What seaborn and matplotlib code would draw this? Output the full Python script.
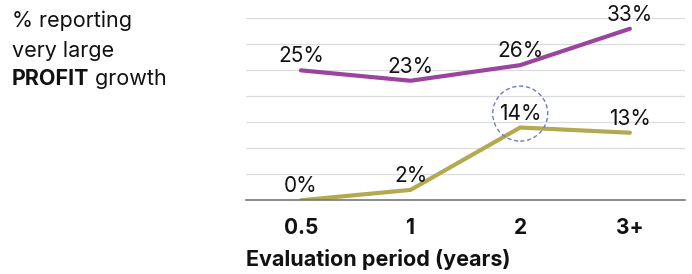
import matplotlib.pyplot as plt
import pandas as pd
import seaborn as sns

periods = ["0.5", "1", "2", "3+"]
all_firms = [25, 23, 26, 33]
subgroup = [0, 2, 14, 13]
series_names = ["all", "subgroup"]
highlight = ("subgroup", "2")

palette = {"all": "#9b449f", "subgroup": "#b3aa50"}

df = pd.DataFrame({
    "period": periods * 2,
    "value": all_firms + subgroup,
    "series": [series_names[0]] * 4 + [series_names[1]] * 4,
})

sns.set_theme(style="white")
plt.rcParams["font.family"] = ["Inter", "DejaVu Sans"]

fig = plt.figure(figsize=(6.92, 2.74), dpi=100)
ax = fig.add_axes([0.3555, 0.269, 0.634, 0.664])

sns.lineplot(data=df, x="period", y="value", hue="series", palette=palette,
             linewidth=3.0, legend=False, ax=ax, sort=False)

ax.set_xlim(-0.5, 3.5)
ax.set_ylim(0, 35)
ax.set_yticks(range(5, 36, 5))
ax.yaxis.grid(True, color="#dcdcdc", linewidth=0.9)
ax.set_axisbelow(True)
ax.tick_params(axis="y", left=False, labelleft=False)
ax.tick_params(axis="x", length=0, pad=13, labelsize=15, labelcolor="#111111")
for lab in ax.get_xticklabels():
    lab.set_fontweight("bold")
for s in ["top", "right", "left"]:
    ax.spines[s].set_visible(False)
ax.spines["bottom"].set_color("#777777")
ax.spines["bottom"].set_linewidth(1.2)
ax.set_ylabel("")
ax.set_xlabel("Evaluation period (years)", fontsize=15.5, fontweight="bold",
              color="#111111")
ax.xaxis.set_label_coords(0.0, -0.325)
ax.xaxis.label.set_ha("left")
ax.xaxis.label.set_va("center")

for name, vals in [("all", all_firms), ("subgroup", subgroup)]:
    for i, v in enumerate(vals):
        bbox = None
        if (name, periods[i]) == highlight:
            bbox = dict(boxstyle="circle,pad=0.3", fc="none", ec="#7079c2",
                        ls=(0, (3, 2)), lw=1.0)
        ax.annotate(f"{v}%", (i, v), xytext=(0, 10), textcoords="offset points",
                    ha="center", va="center", fontsize=15, color="#111111",
                    bbox=bbox)

fig.text(0.017, 0.925, "% reporting", fontsize=15.5, va="center", color="#111111")
fig.text(0.017, 0.815, "very large", fontsize=15.5, va="center", color="#111111")
t = fig.text(0.017, 0.712, "PROFIT", fontsize=15.5, va="center",
             fontweight="bold", color="#111111")
ax.annotate(" growth", xy=(1, 0), xycoords=t, va="bottom", ha="left",
            fontsize=15.5, color="#111111", annotation_clip=False)

fig.savefig("out.png", dpi=100)
